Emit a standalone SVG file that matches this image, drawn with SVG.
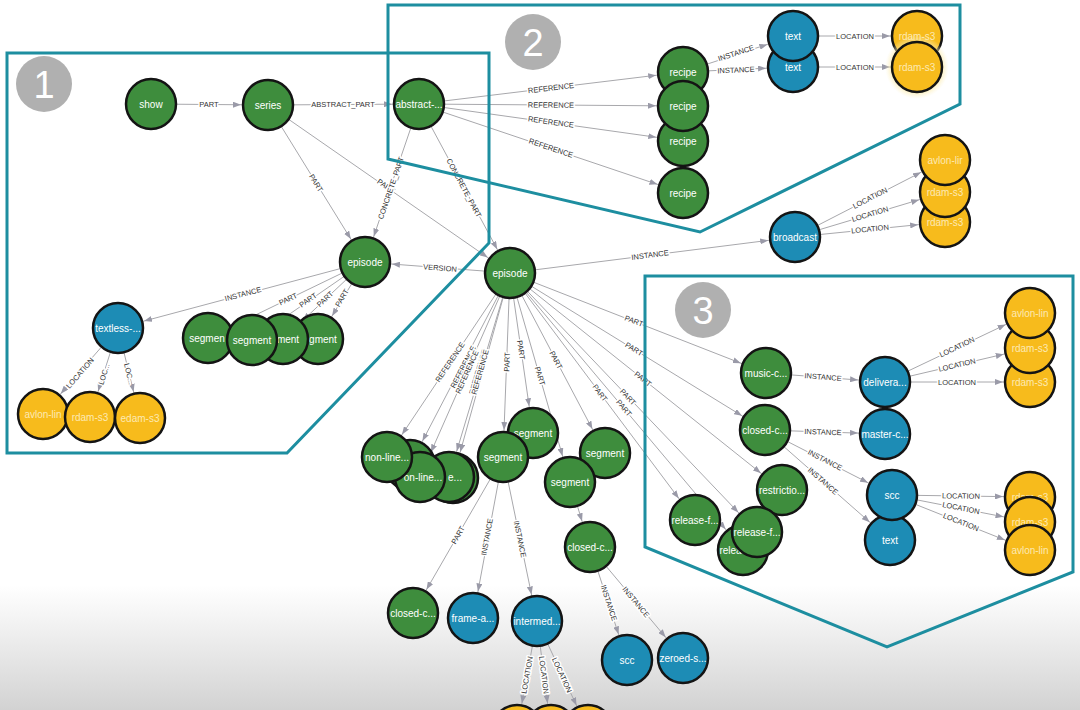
<svg xmlns="http://www.w3.org/2000/svg" width="1080" height="710" viewBox="0 0 1080 710">
<defs>
<marker id="arr" markerUnits="userSpaceOnUse" markerWidth="8" markerHeight="6" refX="35" refY="3" orient="auto"><path d="M0,0 L8,3 L0,6 z" fill="#9a9aa8"/></marker>
<linearGradient id="fade" x1="0" y1="0" x2="0" y2="1"><stop offset="0" stop-color="#d6d6d6" stop-opacity="0"/><stop offset="1" stop-color="#d2d2d2" stop-opacity="1"/></linearGradient>
<radialGradient id="glow"><stop offset="0.75" stop-color="#fbe79a" stop-opacity="0.8"/><stop offset="1" stop-color="#fdf3c8" stop-opacity="0"/></radialGradient>
<style>
.edges line{stroke:#a8a8ac;stroke-width:1;marker-end:url(#arr)}
.el{font-family:"Liberation Sans",Arial,sans-serif;font-size:7.5px;fill:#333;text-anchor:middle;stroke:#fff;stroke-width:3px;paint-order:stroke;stroke-linejoin:round}
.box{fill:none;stroke:#1d8ea0;stroke-width:3}
.badge circle{fill:#b0b0b0}
.badge text{font-family:"Liberation Sans",Arial,sans-serif;font-size:38px;fill:#fff;text-anchor:middle}
.node circle{stroke:#141414;stroke-width:2.5}
.g circle{fill:#3e8d3d}
.b circle{fill:#1d8cb5}
.y circle{fill:#f7bb1c}
.node circle.halo{fill:url(#glow);stroke:none}
.node text{font-family:"Liberation Sans",Arial,sans-serif;font-size:10px;fill:#fff;text-anchor:middle}
.y text{fill:#fff6d8;opacity:0.8}
</style>
</defs>
<rect width="1080" height="710" fill="#fff"/>
<rect x="0" y="585" width="1080" height="125" fill="url(#fade)"/>

<g id="connectors" class="edges">
<line x1="151" y1="104" x2="268" y2="105"/>
<line x1="268" y1="105" x2="419" y2="104"/>
<line x1="268" y1="105" x2="365" y2="262"/>
<line x1="268" y1="105" x2="510" y2="273"/>
<line x1="419" y1="104" x2="365" y2="262"/>
<line x1="419" y1="104" x2="510" y2="273"/>
<line x1="419" y1="104" x2="683" y2="72"/>
<line x1="419" y1="104" x2="683" y2="106"/>
<line x1="419" y1="104" x2="683" y2="141"/>
<line x1="419" y1="104" x2="683" y2="193"/>
<line x1="683" y1="72" x2="793" y2="36"/>
<line x1="683" y1="72" x2="793" y2="67"/>
<line x1="793" y1="36" x2="917" y2="36"/>
<line x1="793" y1="67" x2="917" y2="67"/>
<line x1="510" y1="273" x2="795" y2="237"/>
<line x1="795" y1="237" x2="945" y2="160"/>
<line x1="795" y1="237" x2="945" y2="192"/>
<line x1="795" y1="237" x2="945" y2="222"/>
<line x1="510" y1="273" x2="365" y2="262"/>
<line x1="365" y1="262" x2="118" y2="328"/>
<line x1="365" y1="262" x2="208" y2="338"/>
<line x1="365" y1="262" x2="252" y2="340"/>
<line x1="365" y1="262" x2="283" y2="339"/>
<line x1="365" y1="262" x2="318" y2="339"/>
<line x1="118" y1="328" x2="43" y2="414"/>
<line x1="118" y1="328" x2="90" y2="417"/>
<line x1="118" y1="328" x2="140" y2="418"/>
<line x1="510" y1="273" x2="387" y2="457"/>
<line x1="510" y1="273" x2="410" y2="465"/>
<line x1="510" y1="273" x2="420" y2="477"/>
<line x1="510" y1="273" x2="449" y2="477"/>
<line x1="510" y1="273" x2="453" y2="478"/>
<line x1="510" y1="273" x2="503" y2="457"/>
<line x1="510" y1="273" x2="533" y2="433"/>
<line x1="510" y1="273" x2="570" y2="482"/>
<line x1="510" y1="273" x2="605" y2="453"/>
<line x1="510" y1="273" x2="766" y2="373"/>
<line x1="510" y1="273" x2="765" y2="430"/>
<line x1="510" y1="273" x2="782" y2="490"/>
<line x1="510" y1="273" x2="757" y2="532"/>
<line x1="510" y1="273" x2="743" y2="550"/>
<line x1="510" y1="273" x2="695" y2="520"/>
<line x1="766" y1="373" x2="885" y2="382"/>
<line x1="765" y1="430" x2="885" y2="434"/>
<line x1="765" y1="430" x2="892" y2="495"/>
<line x1="765" y1="430" x2="890" y2="540"/>
<line x1="885" y1="382" x2="1030" y2="313"/>
<line x1="885" y1="382" x2="1030" y2="348"/>
<line x1="885" y1="382" x2="1030" y2="382"/>
<line x1="892" y1="495" x2="1030" y2="497"/>
<line x1="892" y1="495" x2="1030" y2="522"/>
<line x1="892" y1="495" x2="1030" y2="550"/>
<line x1="503" y1="457" x2="413" y2="613"/>
<line x1="503" y1="457" x2="473" y2="618"/>
<line x1="503" y1="457" x2="537" y2="621"/>
<line x1="570" y1="482" x2="590" y2="547"/>
<line x1="590" y1="547" x2="627" y2="660"/>
<line x1="590" y1="547" x2="683" y2="658"/>
<line x1="537" y1="621" x2="517" y2="730"/>
<line x1="537" y1="621" x2="551" y2="730"/>
<line x1="537" y1="621" x2="588" y2="730"/>

<text class="el" transform="translate(209,104)" y="2.6">PART</text>
<text class="el" transform="translate(343,104)" y="2.6">ABSTRACT_PART</text>
<text class="el" transform="translate(316,183) rotate(58.3)" y="2.6">PART</text>
<text class="el" transform="translate(386,186) rotate(34.8)" y="2.6">PART</text>
<text class="el" transform="translate(391,188) rotate(-71.1)" y="2.6">CONCRETE_PART</text>
<text class="el" transform="translate(464,188) rotate(61.7)" y="2.6">CONCRETE_PART</text>
<text class="el" transform="translate(551,88) rotate(-6.9)" y="2.6">REFERENCE</text>
<text class="el" transform="translate(551,105) rotate(0.4)" y="2.6">REFERENCE</text>
<text class="el" transform="translate(551,122) rotate(8)" y="2.6">REFERENCE</text>
<text class="el" transform="translate(551,148) rotate(18.6)" y="2.6">REFERENCE</text>
<text class="el" transform="translate(736,53) rotate(-18.1)" y="2.6">INSTANCE</text>
<text class="el" transform="translate(736,70) rotate(-2.6)" y="2.6">INSTANCE</text>
<text class="el" transform="translate(855,36)" y="2.6">LOCATION</text>
<text class="el" transform="translate(855,67)" y="2.6">LOCATION</text>
<text class="el" transform="translate(650,255) rotate(-7.2)" y="2.6">INSTANCE</text>
<text class="el" transform="translate(870,198) rotate(-27.2)" y="2.6">LOCATION</text>
<text class="el" transform="translate(870,214) rotate(-16.7)" y="2.6">LOCATION</text>
<text class="el" transform="translate(870,229) rotate(-5.7)" y="2.6">LOCATION</text>
<text class="el" transform="translate(440,268) rotate(4.3)" y="2.6">VERSION</text>
<text class="el" transform="translate(243,294) rotate(-15)" y="2.6">INSTANCE</text>
<text class="el" transform="translate(288,299) rotate(-25.8)" y="2.6">PART</text>
<text class="el" transform="translate(308,300) rotate(-34.6)" y="2.6">PART</text>
<text class="el" transform="translate(325,299) rotate(-43.2)" y="2.6">PART</text>
<text class="el" transform="translate(342,298) rotate(-58.6)" y="2.6">PART</text>
<text class="el" transform="translate(80,373) rotate(-48.9)" y="2.6">LOCATION</text>
<text class="el" transform="translate(104,374) rotate(-72.5)" y="2.6">LOC...</text>
<text class="el" transform="translate(129,374) rotate(76.3)" y="2.6">LOC...</text>
<text class="el" transform="translate(450,362) rotate(-56.2)" y="2.6">REFERENCE</text>
<text class="el" transform="translate(463,367) rotate(-62.5)" y="2.6">REFERENCE</text>
<text class="el" transform="translate(467,372) rotate(-66.2)" y="2.6">REFERENCE</text>
<text class="el" transform="translate(478,372) rotate(-73.4)" y="2.6">REFERENCE</text>
<text class="el" transform="translate(480,372) rotate(-74)" y="2.6">REFERENCE</text>
<text class="el" transform="translate(507,362) rotate(-87.8)" y="2.6">PART</text>
<text class="el" transform="translate(521,350) rotate(81.8)" y="2.6">PART</text>
<text class="el" transform="translate(540,376) rotate(74)" y="2.6">PART</text>
<text class="el" transform="translate(556,360) rotate(62.2)" y="2.6">PART</text>
<text class="el" transform="translate(634,321) rotate(21.3)" y="2.6">PART</text>
<text class="el" transform="translate(634,349) rotate(31.6)" y="2.6">PART</text>
<text class="el" transform="translate(643,379) rotate(38.6)" y="2.6">PART</text>
<text class="el" transform="translate(628,397) rotate(46.4)" y="2.6">PART</text>
<text class="el" transform="translate(624,408) rotate(50)" y="2.6">PART</text>
<text class="el" transform="translate(600,393) rotate(53.2)" y="2.6">PART</text>
<text class="el" transform="translate(823,377) rotate(4.3)" y="2.6">INSTANCE</text>
<text class="el" transform="translate(823,432) rotate(1.9)" y="2.6">INSTANCE</text>
<text class="el" transform="translate(825,460) rotate(27.1)" y="2.6">INSTANCE</text>
<text class="el" transform="translate(823,481) rotate(41.3)" y="2.6">INSTANCE</text>
<text class="el" transform="translate(957,347) rotate(-25.4)" y="2.6">LOCATION</text>
<text class="el" transform="translate(957,365) rotate(-13.2)" y="2.6">LOCATION</text>
<text class="el" transform="translate(957,382)" y="2.6">LOCATION</text>
<text class="el" transform="translate(961,496) rotate(0.8)" y="2.6">LOCATION</text>
<text class="el" transform="translate(961,508) rotate(11.1)" y="2.6">LOCATION</text>
<text class="el" transform="translate(961,522) rotate(21.7)" y="2.6">LOCATION</text>
<text class="el" transform="translate(458,535) rotate(-60)" y="2.6">PART</text>
<text class="el" transform="translate(487,537) rotate(-79.4)" y="2.6">INSTANCE</text>
<text class="el" transform="translate(520,539) rotate(78.3)" y="2.6">INSTANCE</text>
<text class="el" transform="translate(609,603) rotate(71.9)" y="2.6">INSTANCE</text>
<text class="el" transform="translate(636,602) rotate(50)" y="2.6">INSTANCE</text>
<text class="el" transform="translate(527,675) rotate(-79.9)" y="2.6">LOCATION</text>
<text class="el" transform="translate(544,675) rotate(82.9)" y="2.6">LOCATION</text>
<text class="el" transform="translate(562,675) rotate(65.5)" y="2.6">LOCATION</text>
</g>

<g id="groups">
<path class="box" d="M7 53 L489 53 L489 243 L287 453 L7 453 Z"/>
<path class="box" d="M388 5 L960 5 L960 104 L700 232 L388 159 Z"/>
<path class="box" d="M645 276 L1073 276 L1073 572 L887 647 L645 547 Z"/>
<g class="badge"><circle cx="44" cy="84" r="28"/><text x="44" y="98">1</text></g>
<g class="badge"><circle cx="533" cy="42" r="28"/><text x="533" y="56">2</text></g>
<g class="badge"><circle cx="703" cy="310" r="28"/><text x="703" y="324">3</text></g>
</g>

<g id="n-show" class="node g"><circle cx="151" cy="104" r="25"/><text x="151" y="107.5">show</text></g>
<g id="n-series" class="node g"><circle cx="268" cy="105" r="25"/><text x="268" y="108.5">series</text></g>
<g id="n-abstract" class="node g"><circle cx="419" cy="104" r="25"/><text x="419" y="107.5">abstract-...</text></g>
<g id="n-episode1" class="node g"><circle cx="365" cy="262" r="25"/><text x="365" y="265.5">episode</text></g>
<g id="n-episode2" class="node g"><circle cx="510" cy="273" r="25"/><text x="510" y="276.5">episode</text></g>
<g id="n-textless" class="node b"><circle cx="118" cy="328" r="25"/><text x="118" y="331.5">textless-...</text></g>
<g id="n-segD" class="node g"><circle cx="318" cy="339" r="25"/><text x="323" y="342.5">gment</text></g>
<g id="n-segC" class="node g"><circle cx="283" cy="339" r="25"/><text x="288" y="342.5">ment</text></g>
<g id="n-segA" class="node g"><circle cx="208" cy="338" r="25"/><text x="207" y="341.5">segmen</text></g>
<g id="n-segB" class="node g"><circle cx="252" cy="340" r="25"/><text x="252" y="343.5">segment</text></g>
<g id="n-yl1" class="node y"><circle cx="43" cy="414" r="25"/><text x="43" y="417.5">avlon-lin</text></g>
<g id="n-yl2" class="node y"><circle cx="90" cy="417" r="25"/><text x="90" y="420.5">rdam-s3</text></g>
<g id="n-yl3" class="node y"><circle cx="140" cy="418" r="25"/><text x="140" y="421.5">edam-s3</text></g>

<g id="n-recipe1" class="node g"><circle cx="683" cy="72" r="25"/><text x="683" y="75.5">recipe</text></g>
<g id="n-recipe3" class="node g"><circle cx="683" cy="141" r="25"/><text x="683" y="144.5">recipe</text></g>
<g id="n-recipe2" class="node g"><circle cx="683" cy="106" r="25"/><text x="683" y="109.5">recipe</text></g>
<g id="n-recipe4" class="node g"><circle cx="683" cy="193" r="25"/><text x="683" y="196.5">recipe</text></g>
<g id="n-text2" class="node b"><circle cx="793" cy="67" r="25"/><text x="793" y="70.5">text</text></g>
<g id="n-text1" class="node b"><circle cx="793" cy="36" r="25"/><text x="793" y="39.5">text</text></g>
<g id="n-yt1" class="node y"><circle cx="917" cy="36" r="25"/><text x="917" y="39.5">rdam-s3</text></g>
<g id="n-yt2" class="node y"><circle class="halo" cx="917" cy="67" r="32"/><circle cx="917" cy="67" r="25"/><text x="917" y="70.5">rdam-s3</text></g>

<g id="n-broadcast" class="node b"><circle cx="795" cy="237" r="25"/><text x="795" y="240.5">broadcast</text></g>
<g id="n-yb3" class="node y"><circle cx="945" cy="222" r="25"/><text x="945" y="225.5">rdam-s3</text></g>
<g id="n-yb2" class="node y"><circle cx="945" cy="192" r="25"/><text x="945" y="195.5">rdam-s3</text></g>
<g id="n-yb1" class="node y"><circle cx="945" cy="160" r="25"/><text x="945" y="163.5">avlon-lir</text></g>

<g id="n-music" class="node g"><circle cx="766" cy="373" r="25"/><text x="766" y="376.5">music-c...</text></g>
<g id="n-closed3" class="node g"><circle cx="765" cy="430" r="25"/><text x="765" y="433.5">closed-c...</text></g>
<g id="n-deliv" class="node b"><circle cx="885" cy="382" r="25"/><text x="885" y="385.5">delivera...</text></g>
<g id="n-master" class="node b"><circle cx="885" cy="434" r="25"/><text x="885" y="437.5">master-c...</text></g>
<g id="n-text3" class="node b"><circle cx="890" cy="540" r="25"/><text x="890" y="543.5">text</text></g>
<g id="n-scc3" class="node b"><circle cx="892" cy="495" r="25"/><text x="892" y="498.5">scc</text></g>
<g id="n-y3c" class="node y"><circle cx="1030" cy="382" r="25"/><text x="1030" y="385.5">rdam-s3</text></g>
<g id="n-y3b" class="node y"><circle cx="1030" cy="348" r="25"/><text x="1030" y="351.5">rdam-s3</text></g>
<g id="n-y3a" class="node y"><circle cx="1030" cy="313" r="25"/><text x="1030" y="316.5">avlon-lin</text></g>
<g id="n-y3d" class="node y"><circle cx="1030" cy="497" r="25"/><text x="1030" y="500.5">rdam-s3</text></g>
<g id="n-y3e" class="node y"><circle cx="1030" cy="522" r="25"/><text x="1030" y="525.5">rdam-s3</text></g>
<g id="n-y3f" class="node y"><circle cx="1030" cy="550" r="25"/><text x="1030" y="553.5">avlon-lin</text></g>
<g id="n-relB" class="node g"><circle cx="743" cy="550" r="25"/><text x="743" y="553.5">release-f...</text></g>
<g id="n-restr" class="node g"><circle cx="782" cy="490" r="25"/><text x="782" y="493.5">restrictio...</text></g>
<g id="n-relF" class="node g"><circle cx="757" cy="532" r="25"/><text x="757" y="535.5">release-f...</text></g>
<g id="n-relL" class="node g"><circle cx="695" cy="520" r="25"/><text x="695" y="523.5">release-f...</text></g>

<g id="n-nls" class="node g"><circle cx="453" cy="478" r="25" stroke-width="3.5"/></g>
<g id="n-nle" class="node g"><circle cx="449" cy="477" r="25"/><text x="455" y="480.5">e...</text></g>
<g id="n-nlh" class="node g"><circle cx="410" cy="465" r="25"/></g>
<g id="n-nl2" class="node g"><circle cx="420" cy="477" r="25"/><text x="423" y="480.5">on-line...</text></g>
<g id="n-nl1" class="node g"><circle cx="387" cy="457" r="25"/><text x="387" y="460.5">non-line...</text></g>
<g id="n-sg2" class="node g"><circle cx="533" cy="433" r="25"/><text x="533" y="436.5">segment</text></g>
<g id="n-sg1" class="node g"><circle cx="503" cy="457" r="25"/><text x="503" y="460.5">segment</text></g>
<g id="n-sg3" class="node g"><circle cx="605" cy="453" r="25"/><text x="605" y="456.5">segment</text></g>
<g id="n-sg4" class="node g"><circle cx="570" cy="482" r="25"/><text x="570" y="485.5">segment</text></g>
<g id="n-closedB" class="node g"><circle cx="590" cy="547" r="25"/><text x="590" y="550.5">closed-c...</text></g>
<g id="n-closedL" class="node g"><circle cx="413" cy="613" r="25"/><text x="413" y="616.5">closed-c...</text></g>
<g id="n-frame" class="node b"><circle cx="473" cy="618" r="25"/><text x="473" y="621.5">frame-a...</text></g>
<g id="n-interm" class="node b"><circle cx="537" cy="621" r="25"/><text x="537" y="624.5">intermed...</text></g>
<g id="n-sccB" class="node b"><circle cx="627" cy="660" r="25"/><text x="627" y="663.5">scc</text></g>
<g id="n-zeroed" class="node b"><circle cx="683" cy="658" r="25"/><text x="683" y="661.5">zeroed-s...</text></g>
<g id="n-yB1" class="node y"><circle cx="517" cy="730" r="25"/></g>
<g id="n-yB2" class="node y"><circle cx="551" cy="730" r="25"/></g>
<g id="n-yB3" class="node y"><circle cx="588" cy="730" r="25"/></g>
</svg>
